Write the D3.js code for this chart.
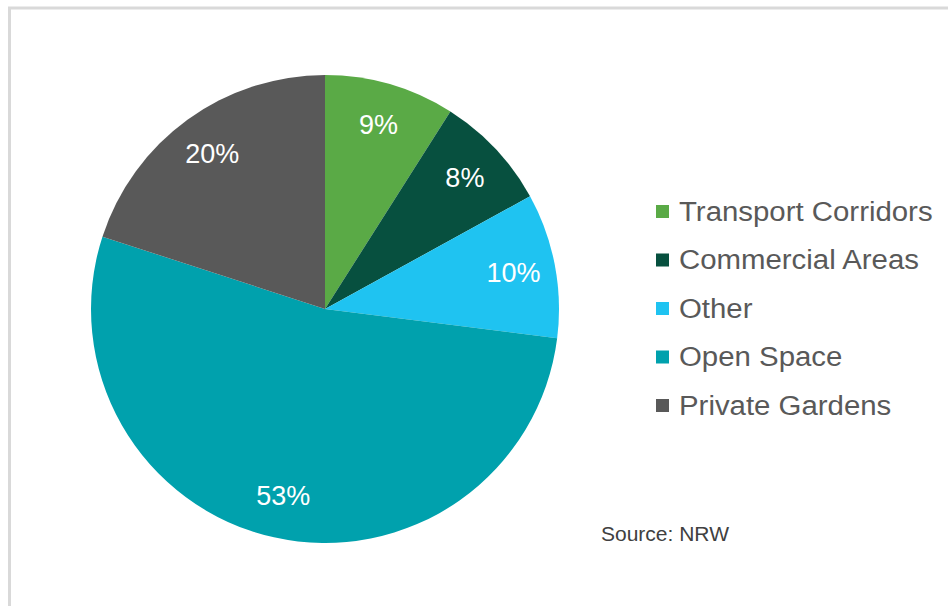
<!DOCTYPE html>
<html>
<head>
<meta charset="utf-8">
<script src="https://cdn.jsdelivr.net/npm/d3@7"></script>
<style>
  html, body { margin: 0; padding: 0; background: #ffffff; }
  svg { display: block; }
  text { font-family: "Liberation Sans", Arial, sans-serif; }
</style>
</head>
<body>
<svg id="chart" width="948" height="606"></svg>
<script>
// Land cover shares (percent)
const categories = ["Transport Corridors", "Commercial Areas", "Other", "Open Space", "Private Gardens"];
const values = [9, 8, 10, 53, 20];
const colors = ["#5aaa46", "#07503f", "#1fc3f1", "#00a1ad", "#595959"];
const sourceNote = "Source: NRW";

const width = 948, height = 606;
const svg = d3.select("#chart");

// Light grey frame around the chart area
svg.append("rect")
  .attr("x", 9.5).attr("y", 8)
  .attr("width", width + 20).attr("height", height + 20)
  .attr("fill", "#ffffff")
  .attr("stroke", "#d9d9d9")
  .attr("stroke-width", 3);

const cx = 325, cy = 309, radius = 234;

const pie = d3.pie().sort(null).value(d => d.value);
const arcs = pie(categories.map((c, i) => ({ name: c, value: values[i], color: colors[i] })));

const arc = d3.arc().innerRadius(0).outerRadius(radius);
const labelArc = d3.arc().innerRadius(radius * 0.82).outerRadius(radius * 0.82);

const g = svg.append("g").attr("transform", `translate(${cx},${cy})`);

g.selectAll("path.slice")
  .data(arcs)
  .join("path")
  .attr("class", "slice")
  .attr("d", arc)
  .attr("fill", d => d.data.color);

g.selectAll("text.pct")
  .data(arcs)
  .join("text")
  .attr("class", "pct")
  .attr("transform", d => `translate(${labelArc.centroid(d)})`)
  .attr("text-anchor", "middle")
  .attr("dominant-baseline", "central")
  .attr("fill", "#ffffff")
  .attr("font-size", 27)
  .text(d => d.data.value + "%");

// Legend
const legend = svg.append("g").attr("transform", "translate(656,211)");
const rowStep = 48.5;
const rows = legend.selectAll("g.row")
  .data(categories)
  .join("g")
  .attr("class", "row")
  .attr("transform", (d, i) => `translate(0,${i * rowStep})`);

rows.append("rect")
  .attr("x", 0).attr("y", -6)
  .attr("width", 13).attr("height", 13)
  .attr("fill", (d, i) => colors[i]);

rows.append("text")
  .attr("transform", "translate(23,0) scale(1.05,1)")
  .attr("dominant-baseline", "central")
  .attr("fill", "#595959")
  .attr("font-size", 28)
  .text(d => d);

svg.append("text")
  .attr("x", 601).attr("y", 533)
  .attr("dominant-baseline", "central")
  .attr("fill", "#404040")
  .attr("font-size", 21)
  .text(sourceNote);
</script>
</body>
</html>
